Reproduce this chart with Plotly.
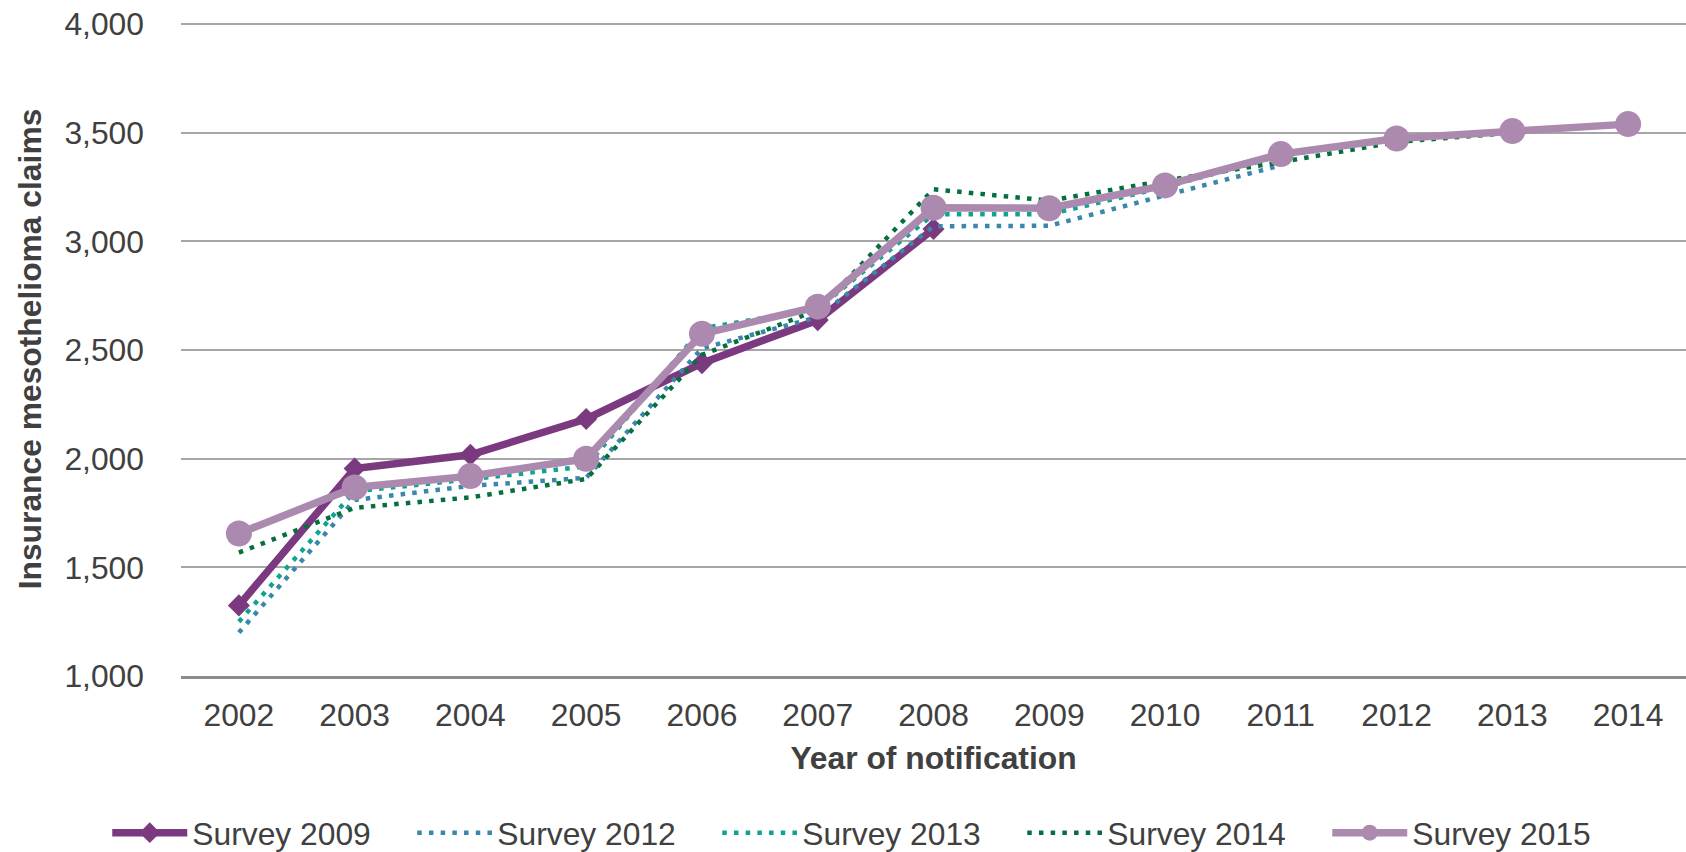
import plotly.graph_objects as go

years = ["2002", "2003", "2004", "2005", "2006", "2007", "2008",
         "2009", "2010", "2011", "2012", "2013", "2014"]

survey_2009 = [1325, 1955, 2018, 2183, 2440, 2638, 3057]
survey_2012 = [1200, 1810, 1875, 1912, 2508, 2652, 3070, 3072, 3212, 3350]
survey_2013 = [1250, 1850, 1905, 1965, 2600, 2690, 3125, 3125, 3250, 3395, 3470]
survey_2014 = [1568, 1774, 1822, 1907, 2478, 2685, 3240, 3188, 3280, 3365, 3458, 3500]
survey_2015 = [1656, 1868, 1920, 2000, 2575, 2700, 3155, 3153, 3258, 3402, 3474, 3508, 3540]

y_ticks = [1000, 1500, 2000, 2500, 3000, 3500, 4000]

FONT = "Liberation Sans, Arial, sans-serif"
TXT = "#404040"
FS = 31.8
DOT = "4.5px,7.2px"

fig = go.Figure()
fig.add_trace(go.Scatter(
    x=years[:len(survey_2009)], y=survey_2009, name="Survey 2009", mode="lines+markers",
    line=dict(color="#7B3A7F", width=7.5),
    marker=dict(symbol="diamond", size=17, color="#7B3A7F")))
fig.add_trace(go.Scatter(
    x=years[:len(survey_2012)], y=survey_2012, name="Survey 2012", mode="lines",
    line=dict(color="#3A87AA", width=4.5, dash=DOT)))
fig.add_trace(go.Scatter(
    x=years[:len(survey_2013)], y=survey_2013, name="Survey 2013", mode="lines",
    line=dict(color="#0FA392", width=4.5, dash=DOT)))
fig.add_trace(go.Scatter(
    x=years[:len(survey_2014)], y=survey_2014, name="Survey 2014", mode="lines",
    line=dict(color="#05703F", width=4.5, dash=DOT)))
fig.add_trace(go.Scatter(
    x=years[:len(survey_2015)], y=survey_2015, name="Survey 2015", mode="lines+markers",
    line=dict(color="#AC8AAF", width=7.5),
    marker=dict(symbol="circle", size=26, color="#AC8AAF")))

fig.update_layout(
    width=1686, height=852,
    margin=dict(l=181, r=0, t=22, b=176, autoexpand=False),
    paper_bgcolor="white", plot_bgcolor="white",
    font=dict(family=FONT, size=FS, color=TXT),
    showlegend=True,
    legend=dict(orientation="h", x=-0.049, xanchor="left", y=-0.240, yanchor="middle",
                font=dict(family=FONT, size=FS, color=TXT),
                itemwidth=75, entrywidth=215, entrywidthmode="pixels",
                traceorder="normal", bgcolor="rgba(0,0,0,0)"),
)
fig.update_xaxes(
    type="category", categoryorder="array", categoryarray=years,
    range=[-0.5, len(years) - 0.5],
    showgrid=False, showline=True, linecolor="#8C8C8C", linewidth=2.5,
    ticks="", ticklabelstandoff=9,
    tickfont=dict(family=FONT, size=FS, color=TXT),
    title=dict(text="<b>Year of notification</b>", standoff=15,
               font=dict(family=FONT, size=FS, color=TXT)),
    automargin=False, fixedrange=True)
fig.update_yaxes(
    range=[1000, 4010], tickmode="array", tickvals=y_ticks,
    ticktext=[f"{v:,}" for v in y_ticks],
    showgrid=True, gridcolor="#A6A6A6", gridwidth=1.5,
    showline=False, zeroline=False, ticks="", ticklabelstandoff=36,
    ticklabeloverflow="allow",
    tickfont=dict(family=FONT, size=FS, color=TXT),
    title=dict(text="<b>Insurance mesothelioma claims</b>", standoff=12.5,
               font=dict(family=FONT, size=FS, color=TXT)),
    automargin=False, fixedrange=True)

fig.write_html("out.html",
               config={"displayModeBar": False},
               post_script="document.body.style.margin='0';document.body.style.overflow='hidden';")
